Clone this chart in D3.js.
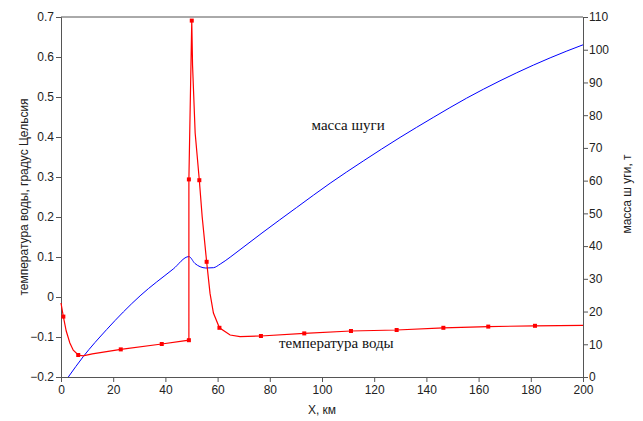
<!DOCTYPE html>
<html>
<head>
<meta charset="utf-8">
<style>
  body { margin: 0; background: #fff; }
  .axis text { font-family: "Liberation Sans", Arial, sans-serif; font-size: 12px; fill: #222; }
  .axis path, .axis line { stroke: #555; }
  .note { font-family: "Liberation Serif", "Times New Roman", serif; font-size: 15px; fill: #111; }
  .title { font-family: "Liberation Sans", Arial, sans-serif; font-size: 12px; fill: #222; }
</style>
</head>
<body>
<script src="https://cdn.jsdelivr.net/npm/d3@7"></script>
<script>
// температура воды (left axis), curve
var tempX = [0, 0.9, 2, 3.4, 4.7, 6.6, 8.5, 12, 22.9, 38.6, 49.0, 49.0, 50.1, 50.4, 51.4, 53, 54.1, 55.8, 57.1, 58.4, 60.7, 64.8, 68.6, 76.6, 93.2, 111.1, 128.6, 146.5, 163.7, 181.6, 200];
var tempY = [-0.015, -0.049, -0.085, -0.115, -0.133, -0.145, -0.147, -0.142, -0.131, -0.1175, -0.108, 0.294, 0.691, 0.58, 0.41, 0.292, 0.2, 0.088, 0.009, -0.04, -0.077, -0.095, -0.099, -0.0975, -0.091, -0.085, -0.0825, -0.077, -0.074, -0.072, -0.071];
// indices of points that carry a square marker
var tempMarks = [1, 5, 8, 9, 10, 11, 12, 15, 17, 20, 23, 24, 25, 26, 27, 28, 29];

// масса шуги (right axis)
var massX = [2.8, 8.5, 17.5, 30.3, 43, 49, 51.3, 53.3, 55.5, 58.4, 61, 64.8, 68.6, 77, 90.3, 103.1, 115.8, 129.9, 142.6, 155.4, 168.2, 181, 193.8, 200];
var massY = [0, 6.2, 14.5, 24.8, 33.0, 36.8, 34.7, 33.7, 33.3, 33.4, 34.5, 36.6, 38.9, 44.0, 51.8, 59.2, 66.0, 73.2, 79.3, 85.2, 90.5, 95.3, 99.6, 101.5];

var xTicks = [0, 20, 40, 60, 80, 100, 120, 140, 160, 180, 200];
var leftTicks = [-0.2, -0.1, 0, 0.1, 0.2, 0.3, 0.4, 0.5, 0.6, 0.7];
var rightTicks = [0, 10, 20, 30, 40, 50, 60, 70, 80, 90, 100, 110];

var W = 643, H = 421;
var margin = {top: 17, right: 60, bottom: 44, left: 61},
    width = W - margin.left - margin.right,
    height = H - margin.top - margin.bottom;

var svg = d3.select("body").append("svg")
    .attr("width", W)
    .attr("height", H);
var g = svg.append("g").attr("transform", "translate(" + margin.left + "," + margin.top + ")");

var x = d3.scaleLinear().domain([0, 200]).range([0, width]);
var yL = d3.scaleLinear().domain([-0.2, 0.7]).range([height, 0]);
var yR = d3.scaleLinear().domain([0, 110]).range([height, 0]);

// frame top line
g.append("line")
    .attr("x1", 0).attr("x2", width)
    .attr("y1", 0).attr("y2", 0)
    .attr("stroke", "#555");

g.append("g")
    .attr("class", "axis")
    .attr("transform", "translate(0," + height + ")")
    .call(d3.axisBottom(x).tickValues(xTicks).tickSizeOuter(0).tickSize(5).tickPadding(3));

g.append("g")
    .attr("class", "axis")
    .call(d3.axisLeft(yL).tickValues(leftTicks).tickSizeOuter(0).tickSize(5).tickPadding(2)
      .tickFormat(function(d) { return d === 0 ? "0" : d3.format(".1f")(d); }));

g.append("g")
    .attr("class", "axis")
    .attr("transform", "translate(" + width + ",0)")
    .call(d3.axisRight(yR).tickValues(rightTicks).tickSizeOuter(0).tickSize(5).tickPadding(1));

// blue mass line
var massData = massX.map(function(d, i) { return [d, massY[i]]; });
g.append("path")
    .datum(massData)
    .attr("fill", "none")
    .attr("stroke", "#0000ff")
    .attr("stroke-width", 1)
    .attr("d", d3.line()
      .x(function(d) { return x(d[0]); })
      .y(function(d) { return yR(d[1]); })
      .curve(d3.curveMonotoneX));

// red temperature line
var tempData = tempX.map(function(d, i) { return [d, tempY[i]]; });
g.append("path")
    .datum(tempData)
    .attr("fill", "none")
    .attr("stroke", "#ff0000")
    .attr("stroke-width", 1.2)
    .attr("d", d3.line()
      .x(function(d) { return x(d[0]); })
      .y(function(d) { return yL(d[1]); })
      .curve(d3.curveLinear));

g.selectAll("rect.mark")
    .data(tempMarks.map(function(i) { return tempData[i]; }))
    .enter().append("rect")
    .attr("class", "mark")
    .attr("x", function(d) { return x(d[0]) - 2; })
    .attr("y", function(d) { return yL(d[1]) - 2; })
    .attr("width", 4)
    .attr("height", 4)
    .attr("fill", "#ff0000");

// annotations
g.append("text").attr("class", "note")
    .attr("x", x(110)).attr("y", yR(75.5))
    .attr("text-anchor", "middle")
    .text("масса шуги");
g.append("text").attr("class", "note")
    .attr("x", x(105.5)).attr("y", yL(-0.128))
    .attr("text-anchor", "middle")
    .text("температура воды");

// axis titles
svg.append("text").attr("class", "title")
    .attr("x", margin.left + width / 2).attr("y", 414)
    .attr("text-anchor", "middle")
    .text("X, км");
svg.append("text").attr("class", "title")
    .attr("transform", "translate(28,197) rotate(-90)")
    .attr("text-anchor", "middle")
    .text("температура воды, градус Цельсия");
svg.append("text").attr("class", "title")
    .attr("transform", "translate(631,194) rotate(-90)")
    .attr("text-anchor", "middle")
    .text("масса ш уги, т");
</script>
</body>
</html>
